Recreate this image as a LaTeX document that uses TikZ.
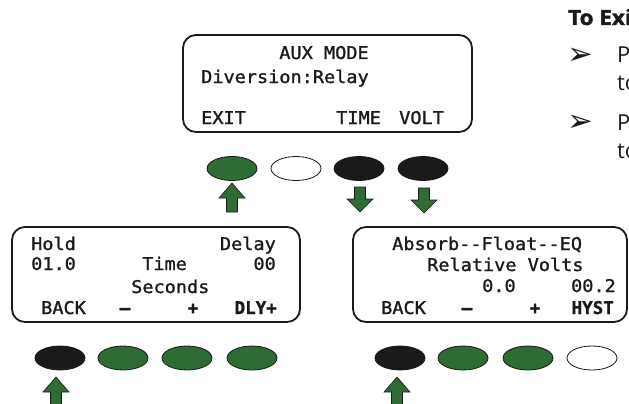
\documentclass[tikz,border=0pt]{standalone}
\usepackage{fontspec}
\usetikzlibrary{shapes.geometric}
\newfontfamily\lcd[FakeStretch=1.06, FakeBold=1.3]{DejaVu Sans Mono}
\newfontfamily\lcdb[FakeStretch=1.0, FakeBold=1.2]{DejaVu Sans Mono Bold}
\newfontfamily\osans{Open Sans}
\newfontfamily\osb[FakeStretch=1.07, BoldFeatures={FakeBold=1.6}]{Open Sans}
\newfontfamily\djv{DejaVu Sans}
\definecolor{btngreen}{HTML}{2F6B34}
\definecolor{btnblack}{HTML}{1A1A1A}
\definecolor{ink}{HTML}{1A1A1A}
\tikzset{
  uparr/.pic={\draw[draw=ink, line width=0.6pt, fill=btngreen, line join=miter]
     (0,0) -- (13,15) -- (5.5,15) -- (5.5,29) -- (-5.5,29) -- (-5.5,15) -- (-13,15) -- cycle;},
  downarr/.pic={\draw[draw=ink, line width=0.6pt, fill=btngreen, line join=miter]
     (0,0) -- (13,-13) -- (5.5,-13) -- (5.5,-25) -- (-5.5,-25) -- (-5.5,-13) -- (-13,-13) -- cycle;}
}
\begin{document}
\begin{tikzpicture}[x=1pt,y=-1pt,
  lcdbox/.style={draw=ink, line width=1.8pt, rounded corners=13pt, inner sep=0pt, rectangle},
  lcdtxt/.style={font=\lcd\fontsize{17.5}{20}\selectfont, text=ink, inner sep=0pt},
  lcdbold/.style={font=\lcdb\fontsize{17.5}{20}\selectfont, text=ink, inner sep=0pt},
  btn/.style={ellipse, draw=ink, line width=0.8pt, minimum width=50pt, minimum height=24pt, inner sep=0pt},
  gbtn/.style={btn, fill=btngreen},
  kbtn/.style={btn, fill=btnblack},
  wbtn/.style={btn, fill=white},
  side/.style={font=\osans\fontsize{22}{26}\selectfont, text=ink, inner sep=0pt, anchor=base west},
  bul/.style={font=\djv\fontsize{31}{34}\selectfont, text=ink, inner sep=0pt, anchor=base west},
]
\useasboundingbox (0,0) rectangle (629,404);
\clip (0,0) rectangle (629,404);

% ---------- top display ----------
\node[lcdbox, minimum width=289pt, minimum height=97pt] (topbox) at (327.5,83.5) {};
\node[lcdtxt, anchor=base] (t1) at (324,59) {AUX MODE};
\node[lcdtxt, anchor=base west] (t2) at (201,83) {Diversion:Relay};
\node[lcdtxt, anchor=base west] (t3) at (201,124) {EXIT};
\node[lcdtxt, anchor=base west] (t4) at (336,124) {TIME};
\node[lcdtxt, anchor=base west] (t5) at (399,124) {VOLT};

\node[gbtn] (tb1) at (232,168.5) {};
\node[wbtn] (tb2) at (296,168.5) {};
\node[kbtn] (tb3) at (359,168.5) {};
\node[kbtn] (tb4) at (423,168.5) {};
\pic at (232,183) {uparr};
\pic at (360,212) {downarr};
\pic at (424,213) {downarr};

% ---------- left display ----------
\node[lcdbox, minimum width=288pt, minimum height=95pt] (leftbox) at (156,274.5) {};
\node[lcdtxt, anchor=base west] (l1) at (31,250) {Hold};
\node[lcdtxt, anchor=base east] (l2) at (276,250) {Delay};
\node[lcdtxt, anchor=base west] (l3) at (31,270) {01.0};
\node[lcdtxt, anchor=base west] (l4) at (142,270) {Time};
\node[lcdtxt, anchor=base east] (l5) at (276,270) {00};
\node[lcdtxt, anchor=base west] (l6) at (131,293) {Seconds};
\node[lcdtxt, anchor=base west] (l7) at (41,314) {BACK};
\node[lcdbold, anchor=base] (l8) at (125,314) {–};
\node[lcdbold, anchor=base] (l9) at (193,314) {+};
\node[lcdbold, anchor=base east] (l10) at (277,314) {DLY+};

\node[kbtn] (lb1) at (60,358) {};
\node[gbtn] (lb2) at (123,358) {};
\node[gbtn] (lb3) at (187,358) {};
\node[gbtn] (lb4) at (252,358) {};
\pic at (56,377) {uparr};

% ---------- right display ----------
\node[lcdbox, minimum width=274pt, minimum height=95pt] (rightbox) at (490,274.5) {};
\node[lcdtxt, anchor=base west] (r1) at (392,250) {Absorb-\kern0pt-Float-\kern0pt-EQ};
\node[lcdtxt, anchor=base west] (r2) at (427,271) {Relative Volts};
\node[lcdtxt, anchor=base west] (r3) at (482,292) {0.0};
\node[lcdtxt, anchor=base east] (r4) at (616,292) {00.2};
\node[lcdtxt, anchor=base west] (r5) at (381,314) {BACK};
\node[lcdbold, anchor=base] (r6) at (467,314) {–};
\node[lcdbold, anchor=base] (r7) at (535,314) {+};
\node[lcdbold, anchor=base east] (r8) at (614,314) {HYST};

\node[kbtn] (rb1) at (400,358) {};
\node[gbtn] (rb2) at (463,358) {};
\node[gbtn] (rb3) at (528,358) {};
\node[wbtn] (rb4) at (592,358) {};
\pic at (397,377) {uparr};

% ---------- side text ----------
\node[side, font=\osb\bfseries\fontsize{21}{25}\selectfont] (s0) at (568,25) {To Exi};
\node[bul] (s1) at (567,64) {➢};
\node[side] (s2) at (617,63) {P};
\node[side] (s3) at (617,91) {to};
\node[bul] (s4) at (567,131) {➢};
\node[side] (s5) at (617,130) {P};
\node[side] (s6) at (617,158) {to};
\end{tikzpicture}
\end{document}
